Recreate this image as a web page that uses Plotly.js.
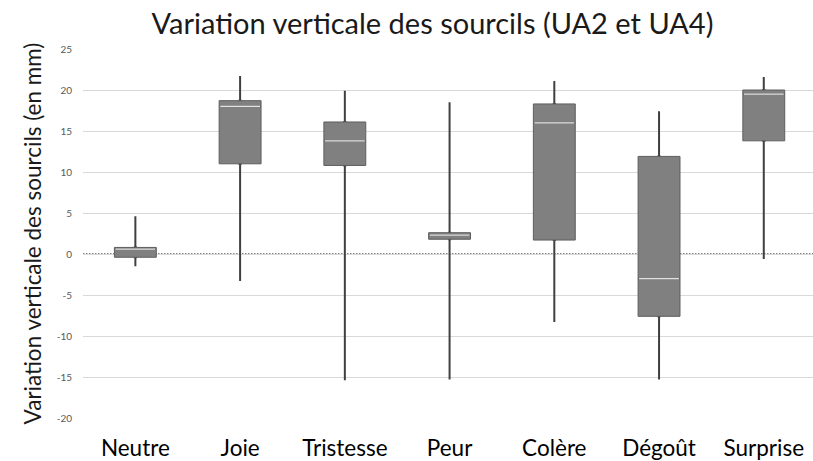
<!DOCTYPE html>
<html>
<head>
<meta charset="utf-8">
<script src="https://cdn.plot.ly/plotly-3.0.1.min.js"></script>
<style>html,body{margin:0;padding:0;background:#fff;}#chart{width:813px;height:461px;}</style>
</head>
<body>
<div id="chart"></div>
<script>
const categories = ['Neutre', 'Joie', 'Tristesse', 'Peur', 'Colère', 'Dégoût', 'Surprise'];
const minVals    = [-1.5, -3.3, -15.4, -15.3, -8.3, -15.3, -0.6];
const q1Vals     = [-0.4, 11.0, 10.8, 1.8, 1.7, -7.6, 13.8];
const medianVals = [0.6, 18.0, 13.8, 2.3, 16.0, -3.0, 19.5];
const q3Vals     = [0.8, 18.7, 16.1, 2.6, 18.3, 11.9, 20.0];
const maxVals    = [4.6, 21.7, 19.9, 18.5, 21.1, 17.4, 21.6];
const yTickVals  = [-20, -15, -10, -5, 0, 5, 10, 15, 20, 25];

const FONT = 'Lato, "Open Sans", sans-serif';

const whiskers = {
  type: 'box', x: categories,
  q1: q1Vals, median: medianVals, q3: q3Vals,
  lowerfence: minVals, upperfence: maxVals,
  width: 0.012, whiskerwidth: 0,
  line: {color: '#404040', width: 2}, fillcolor: '#404040',
  boxpoints: false, hoverinfo: 'skip', showlegend: false
};
const bodies = {
  type: 'box', x: categories,
  q1: q1Vals, median: medianVals, q3: q3Vals,
  lowerfence: q1Vals, upperfence: q3Vals,
  width: 0.4, whiskerwidth: 0,
  line: {color: '#5e5e5e', width: 1}, fillcolor: '#808080',
  boxpoints: false, hoverinfo: 'skip', showlegend: false
};
const medians = {
  type: 'box', x: categories,
  q1: medianVals, median: medianVals, q3: medianVals,
  lowerfence: medianVals, upperfence: medianVals,
  width: 0.38, whiskerwidth: 0,
  line: {color: '#e2e2e2', width: 1.2}, fillcolor: 'rgba(0,0,0,0)',
  boxpoints: false, hoverinfo: 'skip', showlegend: false
};

const layout = {
  width: 813, height: 461,
  margin: {l: 83, r: 0, t: 49, b: 43, pad: 0},
  paper_bgcolor: '#ffffff', plot_bgcolor: '#ffffff',
  font: {family: FONT, color: '#000000'},
  boxmode: 'overlay',
  showlegend: false,
  title: {
    text: 'Variation verticale des sourcils (UA2 et UA4)',
    font: {family: FONT, size: 29, color: '#1a1a1a'},
    xref: 'container', x: 0.532, xanchor: 'center',
    yref: 'container', y: 0.948, yanchor: 'middle'
  },
  xaxis: {
    type: 'category', range: [-0.5, 6.47],
    showgrid: false, zeroline: false, showline: false, ticks: '',
    tickfont: {family: FONT, size: 22.5, color: '#000000'},
    ticklabelstandoff: 14, fixedrange: true
  },
  yaxis: {
    range: [-20, 25], tickvals: yTickVals, ticktext: yTickVals.map(String),
    showgrid: true, gridcolor: '#d9d9d9', gridwidth: 1,
    zeroline: false, showline: false, ticks: '',
    tickfont: {family: FONT, size: 10, color: '#595959'},
    ticklabelstandoff: 10,
    title: {text: 'Variation verticale des sourcils (en mm)', font: {family: FONT, size: 22.5, color: '#1a1a1a'}, standoff: 8},
    automargin: false, fixedrange: true
  },
  shapes: [{
    type: 'line', xref: 'paper', x0: 0, x1: 1, yref: 'y', y0: 0, y1: 0,
    line: {color: '#000000', width: 1, dash: '1.5px,1.5px'}, layer: 'between'
  }]
};

Plotly.newPlot('chart', [whiskers, bodies, medians], layout, {staticPlot: true, displayModeBar: false});
</script>
</body>
</html>
